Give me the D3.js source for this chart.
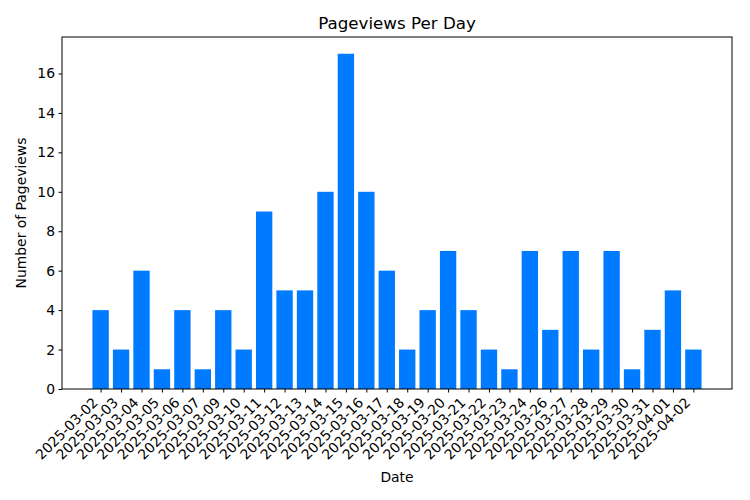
<!DOCTYPE html>
<html>
<head>
<meta charset="utf-8">
<script src="https://cdn.jsdelivr.net/npm/d3@7"></script>
<style>
  body { margin: 0; background: #fff; }
  text { font-family: "DejaVu Sans", sans-serif; fill: #000; }
  .axis text { font-size: 13.9px; }
  .axis path, .axis line { stroke: #000; stroke-width: 1px; }
</style>
</head>
<body>
<script>
var width = 750;
var height = 500;
var margin = {top: 37, right: 18, bottom: 111, left: 62};

// data
var dates = ["2025-03-02", "2025-03-03", "2025-03-04", "2025-03-05", "2025-03-06",
             "2025-03-07", "2025-03-09", "2025-03-10", "2025-03-11", "2025-03-12",
             "2025-03-13", "2025-03-14", "2025-03-15", "2025-03-16", "2025-03-17",
             "2025-03-18", "2025-03-19", "2025-03-20", "2025-03-21", "2025-03-22",
             "2025-03-23", "2025-03-24", "2025-03-26", "2025-03-27", "2025-03-28",
             "2025-03-29", "2025-03-30", "2025-03-31", "2025-04-01", "2025-04-02"];
var views = [4, 2, 6, 1, 4, 1, 4, 2, 9, 5, 5, 10, 17, 10, 6, 2, 4, 7, 4, 2, 1, 7, 3, 7, 2, 7, 1, 3, 5, 2];
var yTicks = [0, 2, 4, 6, 8, 10, 12, 14, 16];

var w = width - margin.left - margin.right;
var h = height - margin.top - margin.bottom;

var svg = d3.select("body").append("svg")
    .attr("width", width)
    .attr("height", height);

var g = svg.append("g")
    .attr("transform", "translate(" + margin.left + "," + margin.top + ")");

// matplotlib style: bar width 0.8, 5% padding each side
var n = dates.length;
var lo = -0.4, hi = n - 1 + 0.4;
var pad = (hi - lo) * 0.05;
var x = d3.scaleLinear().domain([lo - pad, hi + pad]).range([0, w]);
var y = d3.scaleLinear().domain([0, d3.max(views) * 1.05]).range([h, 0]);

g.selectAll(".bar")
  .data(views)
  .enter()
  .append("rect")
  .attr("class", "bar")
  .attr("x", function(d, i) { return x(i - 0.4); })
  .attr("width", x(0.8) - x(0))
  .attr("y", function(d) { return y(d); })
  .attr("height", function(d) { return h - y(d); })
  .attr("fill", "#007bff");

// x axis
var xAxis = g.append("g")
  .attr("class", "axis")
  .attr("transform", "translate(0," + h + ")")
  .call(d3.axisBottom(x)
    .tickValues(d3.range(n))
    .tickFormat(function(i) { return dates[i]; })
    .tickSize(3.5)
    .tickSizeOuter(0));
xAxis.select(".domain").remove();
// rotated labels: top-right corner of the rotated box sits under the tick
xAxis.selectAll("text")
  .attr("text-anchor", "end")
  .attr("y", 0)
  .attr("dy", 0)
  .attr("transform", "translate(-2.5,14.5) rotate(-45)");

// y axis
var yAxis = g.append("g")
  .attr("class", "axis")
  .call(d3.axisLeft(y)
    .tickValues(yTicks)
    .tickSize(3.5)
    .tickPadding(3.5));
yAxis.select(".domain").remove();

// frame
g.append("rect")
  .attr("width", w)
  .attr("height", h)
  .attr("fill", "none")
  .attr("stroke", "#000")
  .attr("stroke-width", 1);

// title and labels
svg.append("text")
  .attr("x", margin.left + w / 2)
  .attr("y", margin.top - 8)
  .attr("text-anchor", "middle")
  .style("font-size", "16.7px")
  .text("Pageviews Per Day");

svg.append("text")
  .attr("x", margin.left + w / 2)
  .attr("y", 482)
  .attr("text-anchor", "middle")
  .style("font-size", "13.9px")
  .text("Date");

svg.append("text")
  .attr("transform", "translate(26," + (margin.top + h / 2) + ") rotate(-90)")
  .attr("text-anchor", "middle")
  .style("font-size", "13.9px")
  .text("Number of Pageviews");
</script>
</body>
</html>
